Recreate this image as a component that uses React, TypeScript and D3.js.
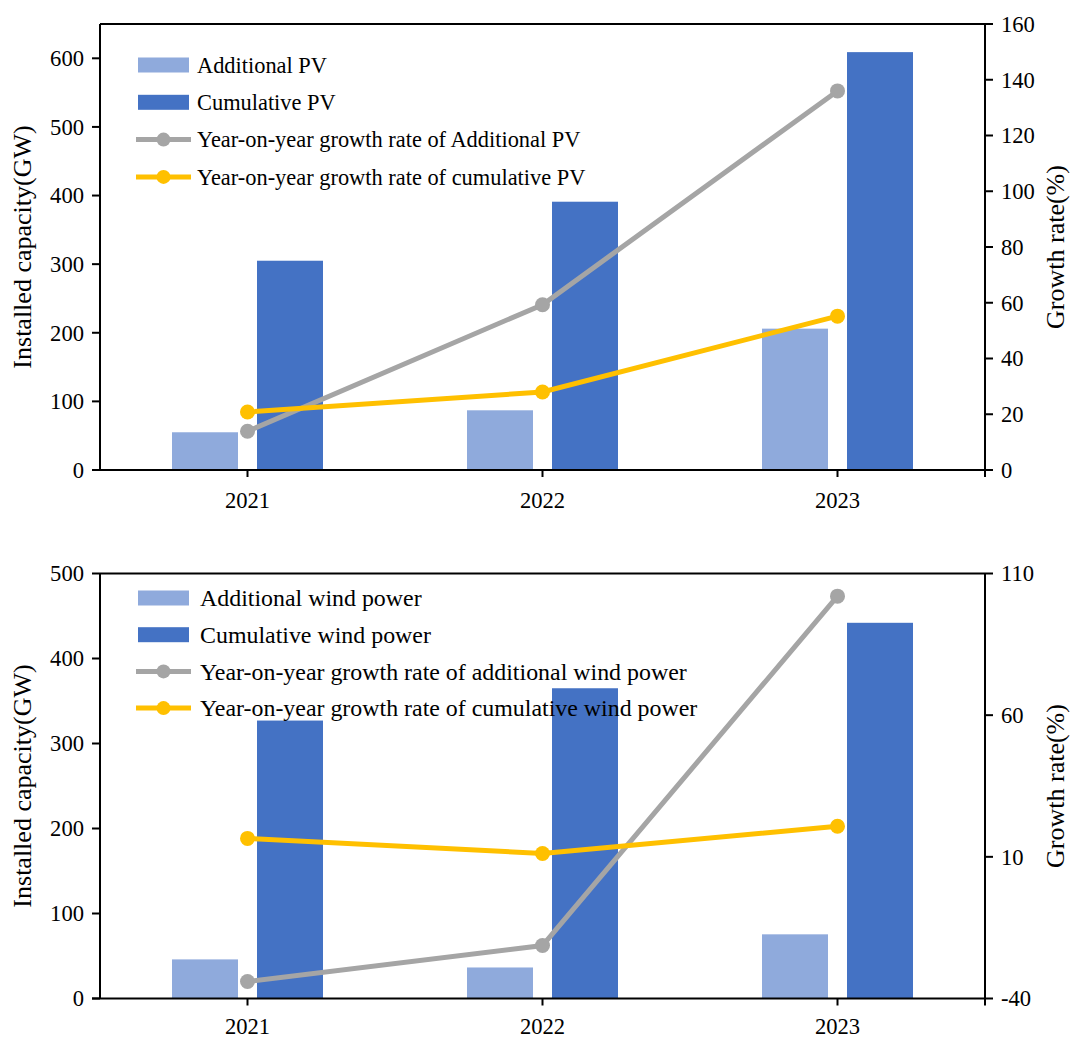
import React from "react";
import * as d3 from "d3";

// Installed capacity by year (GW) and year-on-year growth rates (%)
const years = ["2021", "2022", "2023"];

const pvAdditional = [55, 87, 206];
const pvCumulative = [305, 391, 609];
const pvAdditionalGrowth = [13.9, 59.3, 136];
const pvCumulativeGrowth = [20.8, 28.0, 55.2];

const windAdditional = [46, 36.5, 75.5];
const windCumulative = [327, 365, 442];
const windAdditionalGrowth = [-34, -21.3, 102];
const windCumulativeGrowth = [16.5, 11.2, 20.8];

const pvLeftTicks = [0, 100, 200, 300, 400, 500, 600];
const pvRightTicks = [0, 20, 40, 60, 80, 100, 120, 140, 160];
const windLeftTicks = [0, 100, 200, 300, 400, 500];
const windRightTicks = [-40, 10, 60, 110];

const pvLegend = [
  "Additional PV",
  "Cumulative PV",
  "Year-on-year growth rate of Additional PV",
  "Year-on-year growth rate of cumulative PV",
];
const windLegend = [
  "Additional wind power",
  "Cumulative wind power",
  "Year-on-year growth rate of additional wind power",
  "Year-on-year growth rate of cumulative wind power",
];

const COLORS = {
  additional: "#8FAADC",
  cumulative: "#4472C4",
  grey: "#A5A5A5",
  yellow: "#FFC000",
};
const T = { fontFamily: "Liberation Serif", fontSize: 22.6, fill: "#000" } as const;
const TITLE = { fontFamily: "Liberation Serif", fontSize: 26, fill: "#000" } as const;

interface PanelProps {
  top: number;
  bottom: number;
  leftDomain: [number, number];
  rightDomain: [number, number];
  leftTicks: number[];
  rightTicks: number[];
  additional: number[];
  cumulative: number[];
  additionalGrowth: number[];
  cumulativeGrowth: number[];
  legend: string[];
  legendTop: number;
  legendSpacing: number;
  legendTextX: number;
  legendFontSize: number;
  xLabelOffset: number;
}

const X0 = 100;
const X1 = 985;

function Panel(p: PanelProps) {
  const x = d3.scaleBand<string>().domain(years).range([X0, X1]).padding(0);
  const yL = d3.scaleLinear().domain(p.leftDomain).range([p.bottom, p.top]);
  const yR = d3.scaleLinear().domain(p.rightDomain).range([p.bottom, p.top]);
  const center = (i: number) => (x(years[i]) as number) + x.bandwidth() / 2;
  const barW = 66;
  const gap = 9.5;

  const line = d3
    .line<number>()
    .x((_, i) => center(i))
    .y((d) => yR(d));

  const midY = (p.top + p.bottom) / 2;
  const legendStyle = { ...T, fontSize: p.legendFontSize };

  return (
    <g>
      {/* bars */}
      {p.additional.map((v, i) => (
        <rect
          key={"a" + i}
          x={center(i) - gap - barW}
          y={yL(v)}
          width={barW}
          height={yL(0) - yL(v)}
          fill={COLORS.additional}
        />
      ))}
      {p.cumulative.map((v, i) => (
        <rect
          key={"c" + i}
          x={center(i) + gap}
          y={yL(v)}
          width={barW}
          height={yL(0) - yL(v)}
          fill={COLORS.cumulative}
        />
      ))}

      {/* growth lines */}
      <path d={line(p.additionalGrowth) || ""} fill="none" stroke={COLORS.grey} strokeWidth={5} />
      {p.additionalGrowth.map((v, i) => (
        <circle key={"ga" + i} cx={center(i)} cy={yR(v)} r={7.5} fill={COLORS.grey} />
      ))}
      <path d={line(p.cumulativeGrowth) || ""} fill="none" stroke={COLORS.yellow} strokeWidth={5} />
      {p.cumulativeGrowth.map((v, i) => (
        <circle key={"gc" + i} cx={center(i)} cy={yR(v)} r={7.5} fill={COLORS.yellow} />
      ))}

      {/* frame */}
      <line x1={X0} x2={X1} y1={p.top} y2={p.top} stroke="#000" strokeWidth={2} />
      <line x1={X0} x2={X0} y1={p.top} y2={p.bottom} stroke="#000" strokeWidth={2} />
      <line x1={X1} x2={X1} y1={p.top} y2={p.bottom + 7} stroke="#000" strokeWidth={2} />
      <line x1={X0 - 8} x2={X1} y1={p.bottom} y2={p.bottom} stroke="#000" strokeWidth={2} />

      {/* left axis */}
      {p.leftTicks.map((t) => (
        <g key={"l" + t}>
          <line x1={X0 - 8} x2={X0} y1={yL(t)} y2={yL(t)} stroke="#000" strokeWidth={2} />
          <text style={T} x={X0 - 16} y={yL(t)} dy="0.35em" textAnchor="end">
            {t}
          </text>
        </g>
      ))}
      {/* right axis */}
      {p.rightTicks.map((t) => (
        <g key={"r" + t}>
          <line x1={X1} x2={X1 + 8} y1={yR(t)} y2={yR(t)} stroke="#000" strokeWidth={2} />
          <text style={T} x={X1 + 16} y={yR(t)} dy="0.35em" textAnchor="start">
            {t}
          </text>
        </g>
      ))}
      {/* x axis */}
      {years.map((yr, i) => (
        <g key={yr}>
          <line x1={center(i)} x2={center(i)} y1={p.bottom} y2={p.bottom + 7} stroke="#000" strokeWidth={2} />
          <text style={T} x={center(i)} y={p.bottom + p.xLabelOffset} textAnchor="middle">
            {yr}
          </text>
        </g>
      ))}

      {/* axis titles */}
      <text style={TITLE} transform={`translate(31,${midY}) rotate(-90)`} textAnchor="middle">
        Installed capacity(GW)
      </text>
      <text style={TITLE} transform={`translate(1064,${midY}) rotate(-90)`} textAnchor="middle">
        Growth rate(%)
      </text>

      {/* legend */}
      {p.legend.map((label, i) => {
        const cy = p.legendTop + i * p.legendSpacing;
        let sym;
        if (i === 0 || i === 1) {
          sym = (
            <rect
              x={138}
              y={cy - 7.5}
              width={51}
              height={15}
              fill={i === 0 ? COLORS.additional : COLORS.cumulative}
            />
          );
        } else {
          const c = i === 2 ? COLORS.grey : COLORS.yellow;
          sym = (
            <g>
              <line x1={136} x2={191} y1={cy} y2={cy} stroke={c} strokeWidth={5} />
              <circle cx={163.5} cy={cy} r={7} fill={c} />
            </g>
          );
        }
        return (
          <g key={label}>
            {sym}
            <text style={legendStyle} x={p.legendTextX} y={cy} dy="0.35em">
              {label}
            </text>
          </g>
        );
      })}
    </g>
  );
}

export default function App() {
  return (
    <svg
      width={1072}
      height={1039}
      style={{ position: "absolute", left: 0, top: 0, background: "#fff" }}
    >
      <rect width={1072} height={1039} fill="#fff" />
      <Panel
        top={24}
        bottom={470}
        leftDomain={[0, 650]}
        rightDomain={[0, 160]}
        leftTicks={pvLeftTicks}
        rightTicks={pvRightTicks}
        additional={pvAdditional}
        cumulative={pvCumulative}
        additionalGrowth={pvAdditionalGrowth}
        cumulativeGrowth={pvCumulativeGrowth}
        legend={pvLegend}
        legendTop={65}
        legendSpacing={37.3}
        legendTextX={197}
        legendFontSize={22.4}
        xLabelOffset={38}
      />
      <Panel
        top={573.5}
        bottom={998.5}
        leftDomain={[0, 500]}
        rightDomain={[-40, 110]}
        leftTicks={windLeftTicks}
        rightTicks={windRightTicks}
        additional={windAdditional}
        cumulative={windCumulative}
        additionalGrowth={windAdditionalGrowth}
        cumulativeGrowth={windCumulativeGrowth}
        legend={windLegend}
        legendTop={598}
        legendSpacing={36.7}
        legendTextX={200}
        legendFontSize={23.9}
        xLabelOffset={35}
      />
    </svg>
  );
}
